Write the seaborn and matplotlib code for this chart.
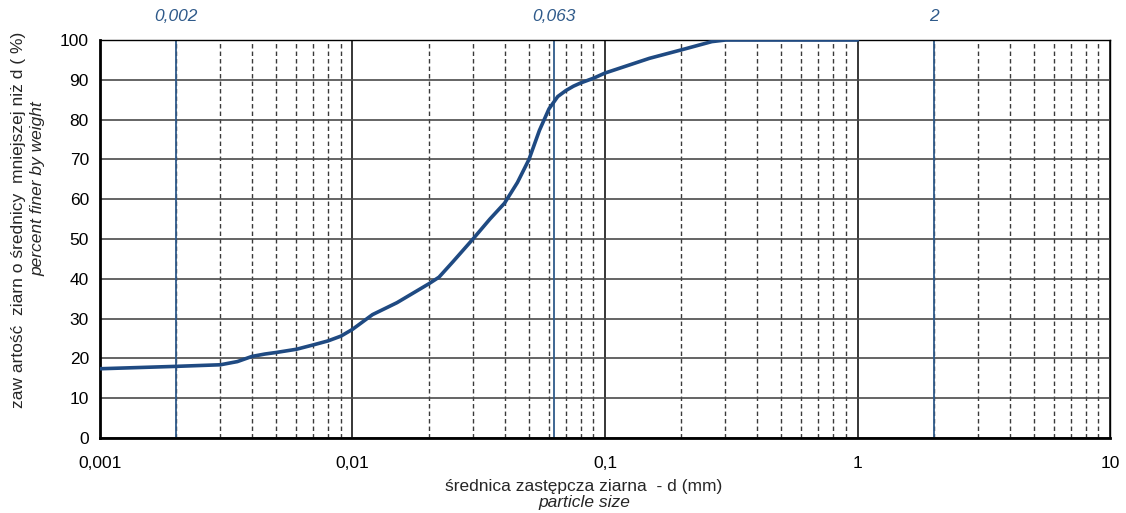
import matplotlib
matplotlib.use("Agg")
import matplotlib.pyplot as plt
import seaborn as sns
import pandas as pd
from matplotlib.ticker import FixedLocator, FixedFormatter, NullFormatter

# ---- data ----
diameter_mm = [0.001, 0.002, 0.003, 0.0035, 0.004, 0.0045, 0.005, 0.006, 0.007, 0.008, 0.009,
               0.01, 0.012, 0.015, 0.02, 0.022, 0.025, 0.03, 0.035, 0.04, 0.045, 0.05, 0.055,
               0.06, 0.065, 0.07, 0.075, 0.08, 0.09, 0.1, 0.15, 0.2, 0.265, 0.3, 0.5, 1.0]
percent_finer = [17.4, 18.0, 18.4, 19.2, 20.5, 21.1, 21.5, 22.3, 23.4, 24.4, 25.6,
                 27.3, 31.0, 34.0, 38.7, 40.4, 44.3, 50.0, 55.0, 59.0, 64.2, 70.0, 77.3,
                 82.7, 85.8, 87.3, 88.4, 89.2, 90.4, 91.7, 95.4, 97.5, 99.6, 100.0, 100.0, 100.0]
boundaries = [0.002, 0.063, 2]
boundary_labels = ["0,002", "0,063", "2"]
x_major = [0.001, 0.01, 0.1, 1, 10]
x_major_labels = ["0,001", "0,01", "0,1", "1", "10"]
y_ticks = list(range(0, 101, 10))

df = pd.DataFrame({"d": diameter_mm, "p": percent_finer})

sns.set_theme(style="white")
plt.rcParams["font.family"] = ["Liberation Sans", "DejaVu Sans"]
FS = 12.5

fig = plt.figure(figsize=(11.26, 5.13), dpi=100)
ax = fig.add_axes([0.0888, 0.1462, 0.8970, 0.7758])
ax.set_xscale("log")
ax.set_xlim(0.001, 10)
ax.set_ylim(0, 100)

# grid
minor = [m * 10.0 ** e for e in range(-3, 1) for m in range(2, 10)]
for xm in minor:
    ax.axvline(xm, color="#3a3a3a", lw=1.0, ls=(0, (3.2, 2.2)), zorder=1)
for xm in x_major:
    ax.axvline(xm, color="black", lw=1.1, zorder=1)
for yv in y_ticks:
    ax.axhline(yv, color="#4a4a4a", lw=1.2, zorder=1)

# boundary lines
blue = "#2f5a8a"
for b, lab in zip(boundaries, boundary_labels):
    ax.axvline(b, color=blue, lw=1.3, zorder=2)
    ax.text(b, 1.058, lab, transform=ax.get_xaxis_transform(), ha="center", va="center",
            fontsize=FS, style="italic", color=blue)

sns.lineplot(data=df, x="d", y="p", ax=ax, color="#1f4a82", lw=2.6, zorder=3)

ax.xaxis.set_major_locator(FixedLocator(x_major))
ax.xaxis.set_major_formatter(FixedFormatter(x_major_labels))
ax.xaxis.set_minor_formatter(NullFormatter())
ax.tick_params(axis="x", which="minor", length=0)
ax.set_yticks(y_ticks)
ax.tick_params(axis="both", which="major", labelsize=FS, colors="black",
               direction="out", length=5, width=1.2, pad=3)
ax.tick_params(axis="x", which="major", length=4, pad=9)

for s in ax.spines.values():
    s.set_color("black")
    s.set_linewidth(1.0)
ax.spines["left"].set_linewidth(2.0)
ax.spines["bottom"].set_linewidth(2.0)

ax.set_xlabel("")
ax.set_ylabel("")
fig.text(584 / 1126, 1 - 486 / 513, "średnica zastępcza ziarna  - d (mm)", ha="center", va="center",
         fontsize=FS)
fig.text(584 / 1126, 1 - 503 / 513, "particle size", ha="center", va="center",
         fontsize=FS, style="italic")
fig.text(19 / 1126, 1 - 220 / 513, "zaw artość  ziarn o średnicy  mniejszej niż d ( %)",
         rotation=90, ha="center", va="center", fontsize=FS)
fig.text(38 / 1126, 1 - 189 / 513, "percent finer by weight", rotation=90,
         ha="center", va="center", fontsize=FS, style="italic")

fig.savefig("out.png", dpi=100, facecolor="white")
